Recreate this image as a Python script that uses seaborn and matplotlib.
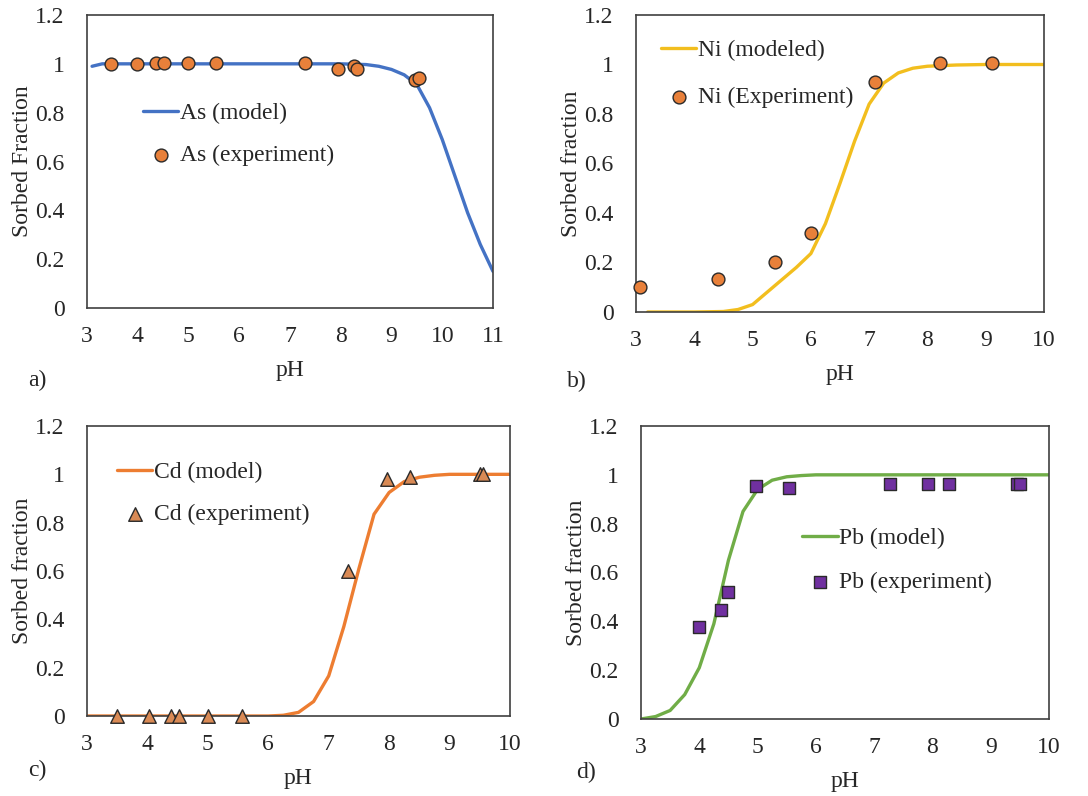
import numpy as np
import pandas as pd
import matplotlib
matplotlib.use("Agg")
import matplotlib.pyplot as plt
from matplotlib.ticker import FuncFormatter, MultipleLocator
import seaborn as sns

# ---------------- data ----------------
as_model_ph = [3.1, 3.3, 4.0, 5.0, 6.0, 7.0, 8.0, 8.5, 8.75, 9.0, 9.25, 9.5, 9.75, 10.0, 10.25, 10.5, 10.75, 11.0]
as_model_y = [0.99, 1.0, 1.0, 1.0, 1.0, 1.0, 1.0, 0.997, 0.99, 0.977, 0.955, 0.915, 0.82, 0.69, 0.54, 0.39, 0.26, 0.15]
as_exp_ph = [3.47, 3.98, 4.36, 4.51, 4.99, 5.55, 7.29, 7.95, 8.27, 8.32, 9.47, 9.54]
as_exp_y = [1.0, 1.0, 1.005, 1.005, 1.005, 1.005, 1.005, 0.98, 0.993, 0.978, 0.935, 0.94]

ni_model_ph = [3.2, 4.0, 4.5, 4.75, 5.0, 5.25, 5.5, 5.75, 6.0, 6.25, 6.5, 6.75, 7.0, 7.25, 7.5, 7.75, 8.0, 8.5, 9.0, 10.0]
ni_model_y = [0.0, 0.0, 0.002, 0.01, 0.03, 0.08, 0.13, 0.18, 0.236, 0.357, 0.52, 0.69, 0.84, 0.925, 0.966, 0.985, 0.993, 0.998, 1.0, 1.0]
ni_exp_ph = [3.07, 4.41, 5.39, 6.0, 7.1, 8.22, 9.11]
ni_exp_y = [0.10, 0.135, 0.20, 0.32, 0.93, 1.005, 1.005]

cd_model_ph = [3.0, 6.0, 6.25, 6.5, 6.75, 7.0, 7.25, 7.5, 7.75, 8.0, 8.25, 8.5, 8.75, 9.0, 10.0]
cd_model_y = [0.0, 0.0, 0.003, 0.015, 0.06, 0.166, 0.37, 0.61, 0.835, 0.925, 0.97, 0.988, 0.996, 1.0, 1.0]
cd_exp_ph = [3.49, 4.03, 4.39, 4.53, 5.01, 5.57, 7.32, 7.96, 8.35, 9.50, 9.55]
cd_exp_y = [0.0, 0.0, 0.0, 0.0, 0.0, 0.0, 0.60, 0.98, 0.99, 1.0, 1.0]

pb_model_ph = [3.0, 3.25, 3.5, 3.75, 4.0, 4.25, 4.5, 4.75, 5.0, 5.25, 5.5, 5.75, 6.0, 7.0, 10.0]
pb_model_y = [0.0, 0.01, 0.035, 0.10, 0.21, 0.39, 0.65, 0.85, 0.94, 0.978, 0.992, 0.997, 1.0, 1.0, 1.0]
pb_exp_ph = [4.0, 4.37, 4.5, 4.98, 5.54, 7.27, 7.92, 8.28, 9.45, 9.51]
pb_exp_y = [0.375, 0.445, 0.522, 0.953, 0.947, 0.963, 0.963, 0.963, 0.963, 0.963]

# ---------------- style ----------------
sns.set_style("white")
plt.rcParams["font.family"] = ["Liberation Serif", "DejaVu Serif"]
FS = 17
TXT = "#262626"

fig = plt.figure(figsize=(10.88, 7.96), dpi=100)
W, H = 1088, 796

def make_ax(l, r, t, b):
    return fig.add_axes([l / W, 1 - b / H, (r - l) / W, (b - t) / H])

panels = [
    dict(box=(87, 493, 15, 308), xmax=11, ylabel="Sorbed Fraction",
         mph=as_model_ph, my=as_model_y, eph=as_exp_ph, ey=as_exp_y,
         lc="#4472C4", mc="#E8803A", mk="o", ms=85, lsp=0.85,
         labels=("As (model)", "As (experiment)"), leg=(0.138, 0.70), tag=("a)", 37, 380)),
    dict(box=(636, 1044, 15, 312), xmax=10, ylabel="Sorbed fraction",
         mph=ni_model_ph, my=ni_model_y, eph=ni_exp_ph, ey=ni_exp_y,
         lc="#F2BE1E", mc="#E8803A", mk="o", ms=85, lsp=1.1,
         labels=("Ni (modeled)", "Ni (Experiment)"), leg=(0.061, 0.918), tag=("b)", 577, 381)),
    dict(box=(87, 510, 426, 716), xmax=10, ylabel="Sorbed fraction",
         mph=cd_model_ph, my=cd_model_y, eph=cd_exp_ph, ey=cd_exp_y,
         lc="#ED7D31", mc="#D98A55", mk="^", ms=95, lsp=0.85,
         labels=("Cd (model)", "Cd (experiment)"), leg=(0.071, 0.877), tag=("c)", 37, 770)),
    dict(box=(641, 1049, 426, 719), xmax=10, ylabel="Sorbed fraction",
         mph=pb_model_ph, my=pb_model_y, eph=pb_exp_ph, ey=pb_exp_y,
         lc="#70AD47", mc="#7030A0", mk="s", ms=85, lsp=0.95,
         labels=("Pb (model)", "Pb (experiment)"), leg=(0.395, 0.654), tag=("d)", 586, 772)),
]

for p in panels:
    ax = make_ax(*p["box"])
    dm = pd.DataFrame({"pH": p["mph"], "frac": p["my"]})
    de = pd.DataFrame({"pH": p["eph"], "frac": p["ey"]})
    sns.lineplot(data=dm, x="pH", y="frac", ax=ax, color=p["lc"], linewidth=2.4,
                 label=p["labels"][0], zorder=2)
    sns.scatterplot(data=de, x="pH", y="frac", ax=ax, color=p["mc"], marker=p["mk"],
                    s=p["ms"], edgecolor="#2a2a2a", linewidth=1.0,
                    label=p["labels"][1], zorder=3, clip_on=False)
    ax.set_xlim(3, p["xmax"])
    ax.set_ylim(0, 1.2)
    ax.xaxis.set_major_locator(MultipleLocator(1))
    ax.yaxis.set_major_locator(MultipleLocator(0.2))
    ax.yaxis.set_major_formatter(FuncFormatter(lambda v, _: f"{v:g}"))
    ax.xaxis.set_major_formatter(FuncFormatter(lambda v, _: f"{v:g}"))
    ax.tick_params(axis="both", direction="in", length=5, width=1.0, color="#404040",
                   labelsize=FS, labelcolor=TXT)
    ax.tick_params(axis="x", pad=13)
    ax.tick_params(axis="y", pad=16)
    for s in ax.spines.values():
        s.set_color("#404040")
        s.set_linewidth(1.2)
    ax.set_xlabel("pH", fontsize=FS, color=TXT, labelpad=9)
    ax.set_ylabel(p["ylabel"], fontsize=FS, color=TXT, labelpad=2)
    ax.legend(loc="upper left", bbox_to_anchor=p["leg"], frameon=False, fontsize=FS,
              handlelength=1.5, handletextpad=0.08, labelspacing=p["lsp"], borderaxespad=0,
              borderpad=0, scatterpoints=1)
    t, x, y = p["tag"]
    fig.text(x / W, 1 - y / H, t, fontsize=FS, color=TXT, ha="center", va="center")

fig.savefig("out.png", dpi=100)
